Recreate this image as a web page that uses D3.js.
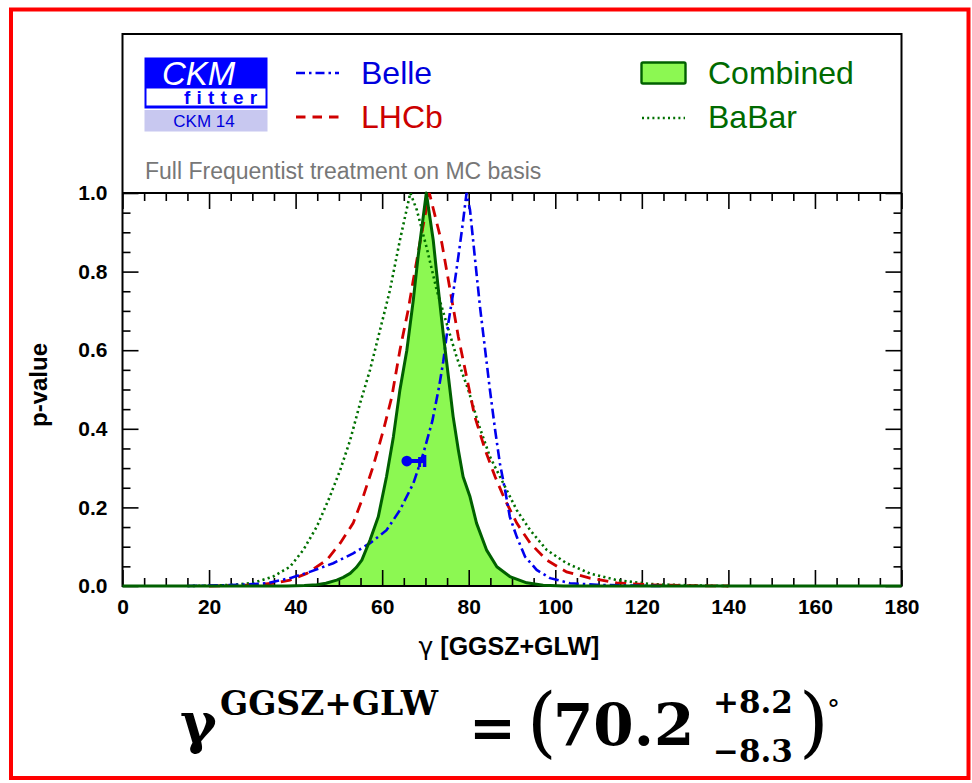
<!DOCTYPE html>
<html>
<head>
<meta charset="utf-8">
<script src="https://cdn.jsdelivr.net/npm/d3@7"></script>
<style>
  html, body { margin: 0; padding: 0; background: #fff; }
  svg { display: block; }
</style>
</head>
<body>
<svg id="chart" width="972" height="783"></svg>
<script>
// p-value scans of gamma, [gamma (deg), p-value]
const combinedScan = [
  [0, 0], [38, 0], [42, 0.001], [44.9, 0.003], [47, 0.007], [49.5, 0.015], [51, 0.022],
  [52.6, 0.032], [54, 0.047], [55.3, 0.066], [57.2, 0.117], [59.1, 0.176], [61, 0.278],
  [62.6, 0.38], [64.1, 0.499], [65.7, 0.6], [67.2, 0.728], [68.3, 0.838], [70.2, 1.0],
  [71.8, 0.88], [73, 0.753], [74.1, 0.643], [75.3, 0.533], [76.4, 0.431], [77.6, 0.346],
  [78.7, 0.278], [80.3, 0.227], [81.8, 0.16], [84.1, 0.092], [86.5, 0.049], [89.5, 0.024],
  [93.4, 0.008], [97.2, 0.002], [102, 0], [180, 0]
];
const lhcbScan = [
  [20, 0], [25, 0.001], [30.2, 0.003], [34.8, 0.007], [38.7, 0.015], [42.6, 0.032],
  [47.2, 0.066], [50.3, 0.109], [53.3, 0.16], [55.6, 0.227], [57.9, 0.304], [60.3, 0.397],
  [62.2, 0.48], [64.1, 0.6], [66, 0.702], [67.2, 0.779], [69, 0.89], [70.9, 1.0],
  [73.8, 0.872], [75.7, 0.753], [77.6, 0.634], [79.5, 0.533], [81.4, 0.431], [83.8, 0.346],
  [86.1, 0.278], [88.4, 0.219], [91.1, 0.16], [94.2, 0.109], [98, 0.066], [102.6, 0.036],
  [108, 0.02], [114.2, 0.008], [121.9, 0.003], [130, 0.001], [140, 0]
];
const belleScan = [
  [15, 0], [20, 0.001], [27.1, 0.003], [33.3, 0.007], [38.7, 0.02], [43.3, 0.036],
  [48.7, 0.058], [53.3, 0.083], [57.2, 0.109], [61, 0.142], [64.1, 0.193], [67.2, 0.261],
  [69.5, 0.337], [71.6, 0.42], [73.2, 0.51], [74.1, 0.57], [75.3, 0.67], [76.4, 0.745],
  [77.6, 0.838], [78.6, 0.92], [79.5, 1.0], [80.3, 0.957], [81.4, 0.838], [82.6, 0.711],
  [83.8, 0.6], [84.9, 0.499], [86.1, 0.397], [87.2, 0.312], [88.4, 0.244], [89.5, 0.176],
  [91.1, 0.125], [93, 0.075], [95.7, 0.041], [98.8, 0.02], [103.4, 0.007], [109.6, 0.003],
  [118, 0.001], [125, 0]
];
const babarScan = [
  [15, 0], [20, 0.001], [25.6, 0.003], [30.2, 0.008], [34.8, 0.024], [38.7, 0.049],
  [41.8, 0.092], [44.9, 0.151], [47.9, 0.227], [50.3, 0.295], [52.6, 0.371], [54.9, 0.465],
  [57.2, 0.55], [59.5, 0.651], [61.8, 0.753], [64.1, 0.88], [66.5, 1.0], [68, 0.957],
  [70.3, 0.86], [72.6, 0.753], [74.9, 0.668], [77.2, 0.583], [79.9, 0.499], [82.2, 0.414],
  [84.9, 0.329], [88, 0.261], [91.1, 0.193], [94.2, 0.142], [98, 0.092], [102.6, 0.058],
  [108, 0.032], [114.2, 0.015], [121.9, 0.005], [130, 0.002], [140, 0]
];

// Belle point with its interval bar at the 1-sigma level
const bellePoint = [65.7, 0.318];
const belleInterval = [65.7, 69.8];

// axis ticks and labels
const xMajorTicks = [0, 20, 40, 60, 80, 100, 120, 140, 160, 180];
const yMajorTicks = [0, 0.2, 0.4, 0.6, 0.8, 1.0];
const xLabelSymbol = "γ";
const xLabelText = " [GGSZ+GLW]";
const yLabel = "p-value";
const noteText = "Full Frequentist treatment on MC basis";
const legendEntries = ["Belle", "LHCb", "Combined", "BaBar"];

const svg = d3.select("#chart");
const plotLeft = 122.5, plotRight = 901.5, plotTop = 193, plotBottom = 586, boxTop = 34;
const x = d3.scaleLinear().domain([0, 180]).range([plotLeft, plotRight]);
const y = d3.scaleLinear().domain([0, 1]).range([plotBottom, plotTop]);

// outer red frame
svg.append("rect").attr("x", 11).attr("y", 9.5).attr("width", 957.5).attr("height", 768.5)
  .attr("fill", "none").attr("stroke", "#ff0000").attr("stroke-width", 4);

// filled combined scan
const area = d3.area().x(d => x(d[0])).y0(y(0)).y1(d => y(d[1]));
svg.append("path").datum(combinedScan).attr("d", area).attr("fill", "#8cf852");

// axes
const xMinor = d3.range(0, 181, 5).filter(v => v % 20 !== 0);
const yMinor = d3.range(0, 1.0001, 0.05).map(v => +v.toFixed(2)).filter(v => Math.round(v * 100) % 20 !== 0);
const axisFont = "'Liberation Sans', Arial, Helvetica, sans-serif";

function styleAxis(g) {
  g.select(".domain").remove();
  g.selectAll(".tick line").attr("stroke", "#000").attr("stroke-width", 1.6);
  g.selectAll("text").attr("font-family", axisFont).attr("font-weight", "bold")
    .attr("font-size", 21).attr("fill", "#000");
}

svg.append("g").attr("transform", `translate(0,${plotBottom})`)
  .call(d3.axisBottom(x).tickValues(xMajorTicks).tickSize(-16).tickPadding(13).tickFormat(d3.format("d")))
  .call(styleAxis);
svg.append("g").attr("transform", `translate(0,${plotBottom})`)
  .call(d3.axisBottom(x).tickValues(xMinor).tickSize(-8).tickFormat(""))
  .call(styleAxis);
svg.append("g").attr("transform", `translate(0,${plotTop})`)
  .call(d3.axisTop(x).tickValues(xMajorTicks).tickSize(-16).tickFormat(""))
  .call(styleAxis);
svg.append("g").attr("transform", `translate(0,${plotTop})`)
  .call(d3.axisTop(x).tickValues(xMinor).tickSize(-8).tickFormat(""))
  .call(styleAxis);
svg.append("g").attr("transform", `translate(${plotLeft},0)`)
  .call(d3.axisLeft(y).tickValues(yMajorTicks).tickSize(-16).tickPadding(15).tickFormat(d3.format(".1f")))
  .call(styleAxis);
svg.append("g").attr("transform", `translate(${plotLeft},0)`)
  .call(d3.axisLeft(y).tickValues(yMinor).tickSize(-8).tickFormat(""))
  .call(styleAxis);
svg.append("g").attr("transform", `translate(${plotRight},0)`)
  .call(d3.axisRight(y).tickValues(yMajorTicks).tickSize(-16).tickFormat(""))
  .call(styleAxis);
svg.append("g").attr("transform", `translate(${plotRight},0)`)
  .call(d3.axisRight(y).tickValues(yMinor).tickSize(-8).tickFormat(""))
  .call(styleAxis);

// frame around plot and legend box
svg.append("rect").attr("x", plotLeft).attr("y", boxTop).attr("width", plotRight - plotLeft).attr("height", plotBottom - boxTop)
  .attr("fill", "none").attr("stroke", "#000").attr("stroke-width", 2);
svg.append("line").attr("x1", plotLeft).attr("x2", plotRight).attr("y1", plotTop).attr("y2", plotTop)
  .attr("stroke", "#000").attr("stroke-width", 2);

// scan curves
const line = d3.line().x(d => x(d[0])).y(d => y(d[1]));
svg.append("path").datum(babarScan).attr("d", line).attr("fill", "none")
  .attr("stroke", "#007000").attr("stroke-width", 2.6).attr("stroke-dasharray", "2.2,3.2");
svg.append("path").datum(lhcbScan).attr("d", line).attr("fill", "none")
  .attr("stroke", "#d00000").attr("stroke-width", 2.8).attr("stroke-dasharray", "11,7");
svg.append("path").datum(belleScan).attr("d", line).attr("fill", "none")
  .attr("stroke", "#0000ee").attr("stroke-width", 2.6).attr("stroke-dasharray", "10,4,2.5,4");
svg.append("path").datum(combinedScan).attr("d", line).attr("fill", "none")
  .attr("stroke", "#006000").attr("stroke-width", 3).attr("stroke-linejoin", "round");

// Belle marker
const mk = svg.append("g").attr("fill", "#0000ee").attr("stroke", "#0000ee");
mk.append("line").attr("x1", x(belleInterval[0])).attr("x2", x(belleInterval[1]))
  .attr("y1", y(bellePoint[1])).attr("y2", y(bellePoint[1])).attr("stroke-width", 4);
mk.append("line").attr("x1", x(belleInterval[1])).attr("x2", x(belleInterval[1]))
  .attr("y1", y(bellePoint[1]) - 6).attr("y2", y(bellePoint[1]) + 6).attr("stroke-width", 3.5);
mk.append("line").attr("x1", x(belleInterval[1]) - 5).attr("x2", x(belleInterval[1]) - 5)
  .attr("y1", y(bellePoint[1]) - 4).attr("y2", y(bellePoint[1]) + 6).attr("stroke-width", 3);
mk.append("circle").attr("cx", x(bellePoint[0])).attr("cy", y(bellePoint[1])).attr("r", 5.4).attr("stroke", "none");

// axis titles
const xt = svg.append("text").attr("x", 509).attr("y", 655).attr("text-anchor", "middle")
  .attr("font-family", axisFont).attr("font-weight", "bold").attr("font-size", 25);
xt.append("tspan").attr("font-family", "'DejaVu Sans', sans-serif").attr("font-weight", "normal").text(xLabelSymbol);
xt.append("tspan").text(xLabelText);
svg.append("text").attr("transform", "translate(47,385) rotate(-90)").attr("text-anchor", "middle")
  .attr("font-family", axisFont).attr("font-weight", "bold").attr("font-size", 24).text(yLabel);

// CKMfitter logo
const logo = svg.append("g");
logo.append("rect").attr("x", 144.5).attr("y", 57.5).attr("width", 123).attr("height", 51).attr("fill", "#0000ff");
logo.append("rect").attr("x", 146.5).attr("y", 88.5).attr("width", 119).attr("height", 17).attr("fill", "#fff");
logo.append("text").attr("x", 162).attr("y", 85).attr("font-family", axisFont).attr("font-style", "italic")
  .attr("font-size", 33).attr("fill", "#fff").text("CKM");
logo.append("text").attr("x", 184).attr("y", 104).attr("font-family", axisFont).attr("font-weight", "bold")
  .attr("font-size", 19).attr("letter-spacing", 6.2).attr("fill", "#0000ff").text("fitter");
logo.append("rect").attr("x", 144.5).attr("y", 110).attr("width", 123).attr("height", 21.5).attr("fill", "#c8c8f0");
logo.append("text").attr("x", 204).attr("y", 127).attr("text-anchor", "middle").attr("font-family", axisFont)
  .attr("font-size", 17).attr("fill", "#0000dd").text("CKM 14");

// legend
const lg = svg.append("g").attr("font-family", axisFont).attr("font-size", 32);
lg.append("line").attr("x1", 296).attr("x2", 339).attr("y1", 73).attr("y2", 73)
  .attr("stroke", "#0000ee").attr("stroke-width", 2.6).attr("stroke-dasharray", "9,4,2.5,4");
lg.append("text").attr("x", 361).attr("y", 84).attr("fill", "#0000dd").text(legendEntries[0]);
lg.append("line").attr("x1", 296).attr("x2", 339).attr("y1", 117).attr("y2", 117)
  .attr("stroke", "#d00000").attr("stroke-width", 2.8).attr("stroke-dasharray", "9.5,7");
lg.append("text").attr("x", 361).attr("y", 127.5).attr("fill", "#cc0000").text(legendEntries[1]);
lg.append("rect").attr("x", 641.5).attr("y", 62.5).attr("width", 44).attr("height", 21).attr("rx", 1.5)
  .attr("fill", "#8cf852").attr("stroke", "#006000").attr("stroke-width", 2.4);
lg.append("text").attr("x", 708).attr("y", 84).attr("fill", "#006a00").text(legendEntries[2]);
lg.append("line").attr("x1", 642).attr("x2", 685).attr("y1", 118).attr("y2", 118)
  .attr("stroke", "#007000").attr("stroke-width", 2.4).attr("stroke-dasharray", "2,3.2");
lg.append("text").attr("x", 708).attr("y", 127.5).attr("fill", "#006a00").text(legendEntries[3]);

svg.append("text").attr("x", 145).attr("y", 179).attr("font-family", axisFont).attr("font-size", 23)
  .attr("fill", "#777").text(noteText);

// result formula
const serif = "'DejaVu Serif', serif";
const f = svg.append("g").attr("font-family", serif).attr("font-weight", "bold").attr("fill", "#000");
f.append("text").attr("x", 180).attr("y", 742).attr("font-size", 56).text("γ");
f.append("text").attr("x", 220).attr("y", 715).attr("font-size", 33).text("GGSZ+GLW");
f.append("text").attr("x", 469).attr("y", 747).attr("font-size", 56).text("=");
f.append("text").attr("x", 527).attr("y", 748).attr("font-size", 76).attr("font-weight", "normal").text("(");
f.append("text").attr("x", 553).attr("y", 745).attr("font-size", 58).text("70.2");
f.append("text").attr("x", 713).attr("y", 713).attr("font-size", 31).text("+8.2");
f.append("text").attr("x", 713).attr("y", 762).attr("font-size", 31).text("−8.3");
f.append("text").attr("x", 799).attr("y", 748).attr("font-size", 76).attr("font-weight", "normal").text(")");
f.append("text").attr("x", 827).attr("y", 718).attr("font-size", 26).attr("font-weight", "normal").text("°");
</script>
</body>
</html>
